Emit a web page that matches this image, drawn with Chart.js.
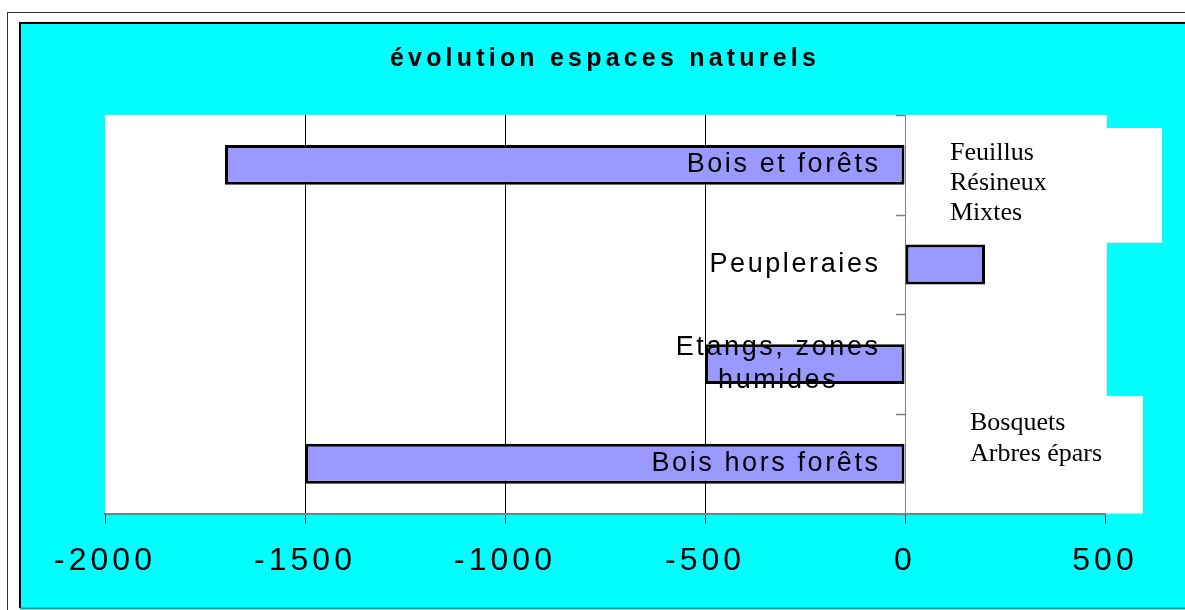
<!DOCTYPE html>
<html>
<head>
<meta charset="utf-8">
<script src="https://cdn.jsdelivr.net/npm/chart.js@4/dist/chart.umd.min.js"></script>
<style>
  html, body { margin: 0; padding: 0; background: #fff; }
  canvas { display: block; }
</style>
</head>
<body>
<canvas id="myChart" width="1185" height="610"></canvas>
<script>
// data
var categories = [['Bois et forêts'], ['Peupleraies'], ['Etangs, zones', 'humides'], ['Bois hors forêts']];
var values = [-1700, 200, -500, -1500];
var xTicks = [-2000, -1500, -1000, -500, 0, 500];
var noteTop = ['Feuillus', 'Résineux', 'Mixtes'];
var noteBottom = ['Bosquets', 'Arbres épars'];

var sans = '"Liberation Sans", Arial, sans-serif';
var serif = '"Liberation Serif", "Times New Roman", serif';

// background, frames, note boxes, category labels
var framePlugin = {
  id: 'frame',
  beforeDraw: function(chart) {
    var ctx = chart.ctx;
    var ca = chart.chartArea;
    var x0 = chart.scales.x.getPixelForValue(0);
    ctx.save();
    ctx.fillStyle = '#fff';
    ctx.fillRect(0, 0, chart.width, chart.height);
    ctx.strokeStyle = '#333';
    ctx.lineWidth = 1;
    ctx.strokeRect(7.5, 12.5, 1300, 700);
    ctx.fillStyle = '#00ffff';
    ctx.fillRect(20, 23, 1300, 585);
    ctx.strokeStyle = '#000';
    ctx.lineWidth = 2;
    ctx.beginPath();
    ctx.moveTo(20, 608); ctx.lineTo(20, 23); ctx.lineTo(1300, 23);
    ctx.stroke();
    ctx.strokeStyle = '#00a8a8';
    ctx.beginPath();
    ctx.moveTo(20, 608.5); ctx.lineTo(1300, 608.5);
    ctx.stroke();

    // plot area
    ctx.fillStyle = '#fff';
    ctx.fillRect(ca.left, ca.top, ca.right - ca.left + 2, ca.bottom - ca.top);
    // note boxes
    ctx.fillRect(x0 + 20, ca.top + 13, ca.right + 57 - x0 - 20, 115);
    ctx.fillRect(x0 + 40, ca.top + 281, ca.right + 38 - x0 - 40, ca.bottom - ca.top - 281);

    ctx.fillStyle = '#000';
    ctx.font = '26px ' + serif;
    ctx.textAlign = 'left';
    ctx.textBaseline = 'middle';
    noteTop.forEach(function(t, i) {
      ctx.fillText(t, x0 + 45, ca.top + 38 + i * 30);
    });
    noteBottom.forEach(function(t, i) {
      ctx.fillText(t, x0 + 65, ca.top + 308 + i * 31);
    });
    ctx.restore();
    // title spacing
    ctx.letterSpacing = '4.2px';
  },
  afterDatasetsDraw: function(chart) {
    // spacing for the tick labels (drawn after datasets, z: 1)
    chart.ctx.letterSpacing = '4px';
  },
  afterDraw: function(chart) {
    var ctx = chart.ctx;
    var yScale = chart.scales.y;
    var x0 = chart.scales.x.getPixelForValue(0);
    var half = (yScale.getPixelForValue(1) - yScale.getPixelForValue(0)) / 2;
    ctx.save();
    // category axis tick marks on the zero line
    ctx.strokeStyle = '#808080';
    ctx.lineWidth = 1.5;
    ctx.beginPath();
    for (var i = 0; i <= categories.length; i++) {
      var yb = Math.round(yScale.getPixelForValue(0) - half + i * 2 * half) + 0.5;
      ctx.moveTo(x0 - 9, yb);
      ctx.lineTo(x0, yb);
    }
    ctx.stroke();

    // category labels, right aligned block, lines centred
    var ls = 2.6;
    ctx.letterSpacing = ls + 'px';
    ctx.font = '27px ' + sans;
    ctx.fillStyle = '#000';
    ctx.textAlign = 'left';
    ctx.textBaseline = 'middle';
    categories.forEach(function(lines, i) {
      var cy = yScale.getPixelForValue(i);
      var widths = lines.map(function(l) { return ctx.measureText(l).width - ls; });
      var blockW = Math.max.apply(null, widths);
      var right = x0 - 27;
      lines.forEach(function(l, j) {
        var y = cy + (j - (lines.length - 1) / 2) * 33;
        ctx.fillText(l, right - blockW / 2 - widths[j] / 2, y);
      });
    });
    ctx.restore();
    ctx.letterSpacing = '0px';
  }
};

var ctx = document.getElementById('myChart').getContext('2d');
var myChart = new Chart(ctx, {
  type: 'bar',
  data: {
    labels: categories.map(function(c) { return c.join(' '); }),
    datasets: [{
      label: 'évolution',
      data: values,
      backgroundColor: '#9999ff',
      borderColor: '#000',
      borderWidth: 3,
      borderSkipped: false,
      barPercentage: 0.4,
      categoryPercentage: 1.0
    }]
  },
  options: {
    indexAxis: 'y',
    responsive: false,
    animation: false,
    layout: {
      padding: { top: 23, left: 105, right: 80, bottom: 12 }
    },
    scales: {
      x: {
        type: 'linear',
        min: -2000,
        max: 500,
        afterBuildTicks: function(axis) {
          axis.ticks = xTicks.map(function(v) { return { value: v }; });
        },
        grid: {
          color: function(c) {
            var v = c.tick && c.tick.value;
            if (v === -2000 || v === 500) return 'rgba(0,0,0,0)';
            if (v === 0) return '#808080';
            return '#000';
          },
          tickColor: '#333',
          lineWidth: 1,
          tickLength: 10
        },
        border: { color: '#808080', width: 2 },
        ticks: {
          z: 1,
          color: '#000',
          padding: 18,
          maxRotation: 0,
          autoSkip: false,
          font: { family: sans, size: 32 },
          callback: function(v) { return String(v); }
        }
      },
      y: {
        display: false
      }
    },
    plugins: {
      legend: { display: false },
      tooltip: { enabled: false },
      title: {
        display: true,
        text: 'évolution espaces naturels',
        color: '#000',
        font: { family: sans, size: 25, weight: 'bold' },
        padding: { top: 21, bottom: 41 }
      }
    }
  },
  plugins: [framePlugin]
});
</script>
</body>
</html>
